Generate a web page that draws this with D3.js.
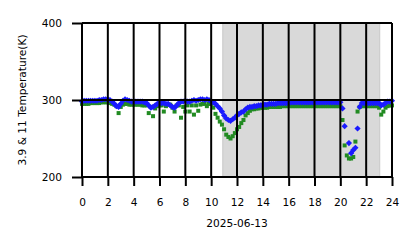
<!DOCTYPE html>
<html><head><meta charset="utf-8">
<script src="https://cdn.jsdelivr.net/npm/d3@7"></script>
<style>body{margin:0;background:#fff}svg text{font-family:"DejaVu Sans",sans-serif;}</style>
</head><body><svg id="c" width="418" height="248"></svg>
<script>
// ---- data ----
const xTickValues = [0,2,4,6,8,10,12,14,16,18,20,22,24];
const yTickValues = [200,300,400];
const dateLabel = "2025-06-13";
const yAxisLabel = "3.9 & 11 Temperature(K)";
const nightStart = 10.9, nightEnd = 23.05;
// samples every 10 minutes, hour 0 .. 24
const sampleHours = d3.range(145).map(i => i / 6);
const blueK = [
 298,299,299,299,299,299,
 299,299,300,300,301,301,
 301,300,298,295,292,291,
 295,299,301,300,299,298,
 298,298,298,298,298,297,
 296,293,290,291,293,295,
 296,296,296,295,295,293,
 291,290,293,296,298,298,
 299,298,298,299,300,299,
 300,301,301,300,301,300,
 298,297,295,292,289,285,
 280,276,274,273,275,277,
 280,282,284,285,288,290,
 291,291,292,292,293,293,
 294,294,294,295,295,295,
 295,296,296,296,296,296,
 297,297,297,297,297,297,
 297,297,297,297,297,297,
 297,297,297,297,297,297,
 297,297,297,297,297,297,
 297,289,266,null,244,231,
 235,238,263,291,296,296,
 296,296,296,296,296,296,
 296,293,294,296,298,298,
 299
];
const greenK = [
 295,295,295,295,296,296,
 296,296,296,297,297,297,
 297,296,295,294,292,283,
 291,294,295,295,294,294,
 294,294,294,294,293,293,
 293,283,291,279,289,292,
 293,293,285,292,294,294,
 290,285,293,293,277,291,
 285,293,285,293,281,293,
 286,294,295,295,292,295,
 295,290,282,277,272,268,
 262,255,252,250,253,257,
 262,265,270,274,280,283,
 286,288,288,289,289,290,
 290,290,290,291,291,291,
 291,291,291,292,292,292,
 292,292,292,292,292,292,
 292,292,292,292,292,292,
 292,292,292,292,292,292,
 292,292,292,292,292,292,
 292,274,241,228,224,224,
 226,246,285,291,292,292,
 292,292,292,292,292,292,
 290,281,285,290,292,293,
 293
];

// ---- layout ----
const svg = d3.select("#c");
const L = 82, R = 392, T = 23, B = 177;
const x = d3.scaleLinear().domain([0,24]).range([L,R]);
const y = d3.scaleLinear().domain([200,400]).range([B,T]);

// shaded span
svg.append("rect")
  .attr("x", x(nightStart)).attr("y", T)
  .attr("width", x(nightEnd) - x(nightStart)).attr("height", B - T)
  .attr("fill", "#d9d9d9").attr("stroke", "#c8c8c8").attr("stroke-width", 1);

const pts = (vals) => sampleHours.map((h,i) => ({h, v: vals[i]})).filter(d => d.v != null);

// green squares
svg.append("g").selectAll("rect").data(pts(greenK)).join("rect")
  .attr("x", d => x(d.h) - 2).attr("y", d => y(d.v) - 2)
  .attr("width", 4).attr("height", 4).attr("fill", "#228b22");

// blue diamonds
const dr = 3.1;
svg.append("g").selectAll("path").data(pts(blueK)).join("path")
  .attr("d", d => `M${x(d.h)},${y(d.v)-dr}L${x(d.h)+dr},${y(d.v)}L${x(d.h)},${y(d.v)+dr}L${x(d.h)-dr},${y(d.v)}Z`)
  .attr("fill", "#1a1aff");

// grid lines
const grid = svg.append("g").attr("stroke", "#000").attr("stroke-width", 2);
grid.selectAll("line.v").data(xTickValues).join("line").attr("class","v")
  .attr("x1", d => x(d)).attr("x2", d => x(d)).attr("y1", T).attr("y2", B);
grid.selectAll("line.h").data(yTickValues).join("line").attr("class","h")
  .attr("x1", L).attr("x2", R).attr("y1", d => y(d)).attr("y2", d => y(d));

// axes
const xAxis = svg.append("g").attr("transform", `translate(0,${B})`)
  .call(d3.axisBottom(x).tickValues(xTickValues).tickFormat(d3.format("d")).tickSize(9).tickPadding(12));
const yAxis = svg.append("g").attr("transform", `translate(${L},0)`)
  .call(d3.axisLeft(y).tickValues(yTickValues).tickFormat(d3.format("d")).tickSize(10).tickPadding(10));
[xAxis, yAxis].forEach(a => {
  a.select(".domain").remove();
  a.selectAll(".tick line").attr("stroke", "#000").attr("stroke-width", 2);
  a.selectAll(".tick text").attr("fill", "#000").style("font-size", "10.6px")
    .style("font-family", '"DejaVu Sans", sans-serif');
});

svg.append("text").attr("x", (L + R) / 2).attr("y", 227)
  .attr("text-anchor", "middle").style("font-size", "10.6px").text(dateLabel);
svg.append("text").attr("transform", `translate(26,${(T + B) / 2}) rotate(-90)`)
  .attr("text-anchor", "middle").style("font-size", "10.6px").text(yAxisLabel);
</script>
</body></html>
